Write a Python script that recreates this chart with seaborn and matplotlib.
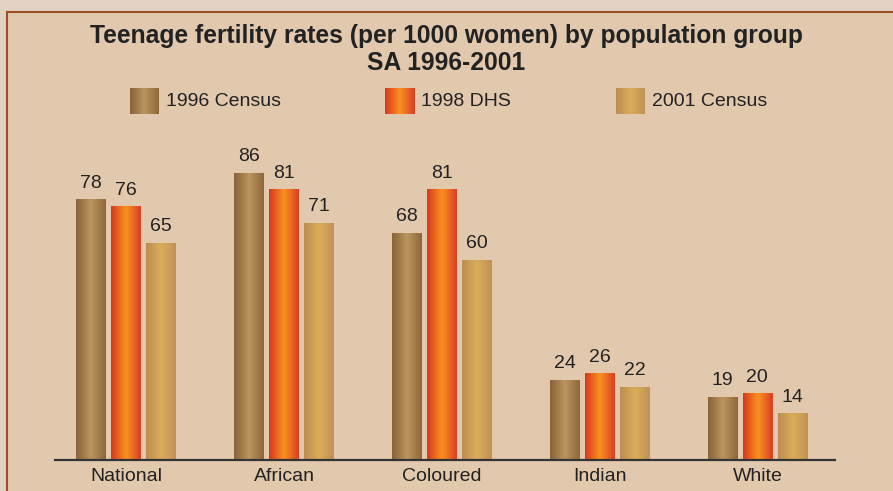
import numpy as np
import pandas as pd
import matplotlib
matplotlib.use('Agg')
import matplotlib.pyplot as plt
from matplotlib.colors import LinearSegmentedColormap
from matplotlib.patches import Rectangle
import seaborn as sns

# Data
groups = ['National', 'African', 'Coloured', 'Indian', 'White']
series = ['1996 Census', '1998 DHS', '2001 Census']
census_1996 = [78, 86, 68, 24, 19]
dhs_1998 = [76, 81, 81, 26, 20]
census_2001 = [65, 71, 60, 22, 14]

df = pd.DataFrame({
    'Group': groups * 3,
    'Source': [series[0]] * 5 + [series[1]] * 5 + [series[2]] * 5,
    'Rate': census_1996 + dhs_1998 + census_2001,
})

# edge / centre colours for the cylinder look
shades = {
    '1996 Census': ('#8a6338', '#bb945e', '#8e683b'),
    '1998 DHS': ('#d8381f', '#f8921f', '#db4026'),
    '2001 Census': ('#bd8d51', '#dbad5a', '#c09255'),
}
cmaps = {k: LinearSegmentedColormap.from_list(k, v) for k, v in shades.items()}
grad = np.linspace(0, 1, 64).reshape(1, -1)

sns.set_theme(style='white')
plt.rcParams['font.family'] = ['Liberation Sans', 'DejaVu Sans']

bg = '#e2c9ae'
fig = plt.figure(figsize=(8.93, 4.91), dpi=100)
fig.patch.set_facecolor('#e2d2c4')
# inner panel with brown frame
fig.patches.append(Rectangle((7 / 893, -0.1), 1.1, (491 - 12) / 491 + 0.1,
                             transform=fig.transFigure, facecolor=bg,
                             edgecolor='#9c4f25', linewidth=1.5, zorder=-10))

ax = fig.add_axes([55 / 893, 1 - 460 / 491, 780 / 893, (460 - 126) / 491])
ax.set_facecolor('none')

sns.barplot(data=df, x='Group', y='Rate', hue='Source', order=groups,
            hue_order=series, palette=[shades[s][1] for s in series],
            width=0.666, gap=0.158, linewidth=0, legend=False, ax=ax, zorder=2)

for cont, s in zip(ax.containers, series):
    for p in cont.patches:
        x, w, h = p.get_x(), p.get_width(), p.get_height()
        im = ax.imshow(grad, cmap=cmaps[s], extent=[x, x + w, 0, h],
                       aspect='auto', zorder=3)
        im.set_clip_path(p)
    ax.bar_label(cont, fmt='%d', padding=5.5, fontsize=14, color='#222222')

ax.set_xlim(-0.451, 4.492)
ax.set_ylim(0, 100)
ax.set_xlabel('')
ax.set_ylabel('')
ax.set_yticks([])
for sp in ['top', 'right', 'left']:
    ax.spines[sp].set_visible(False)
ax.spines['bottom'].set_color('#333333')
ax.spines['bottom'].set_linewidth(1.6)
ax.spines['bottom'].set_zorder(5)
ax.tick_params(axis='x', length=0, labelsize=14, labelcolor='#222222', pad=6)

# title
fig.text(0.5, 1 - 36 / 491, 'Teenage fertility rates (per 1000 women) by population group',
         ha='center', va='center', fontsize=17.7, fontweight='bold', color='#222222')
fig.text(0.5, 1 - 63 / 491, 'SA 1996-2001',
         ha='center', va='center', fontsize=17.7, fontweight='bold', color='#222222')

# legend with gradient swatches
swatch_x = [130, 385, 616]
for sx, s in zip(swatch_x, series):
    sax = fig.add_axes([sx / 893, 1 - 114 / 491, 29 / 893, 26 / 491])
    sax.imshow(grad, cmap=cmaps[s], aspect='auto')
    sax.axis('off')
    fig.text((sx + 36) / 893, 1 - 101 / 491, s, ha='left', va='center',
             fontsize=14, color='#222222')

plt.savefig('out.png', dpi=100, facecolor=fig.get_facecolor())
plt.close()
